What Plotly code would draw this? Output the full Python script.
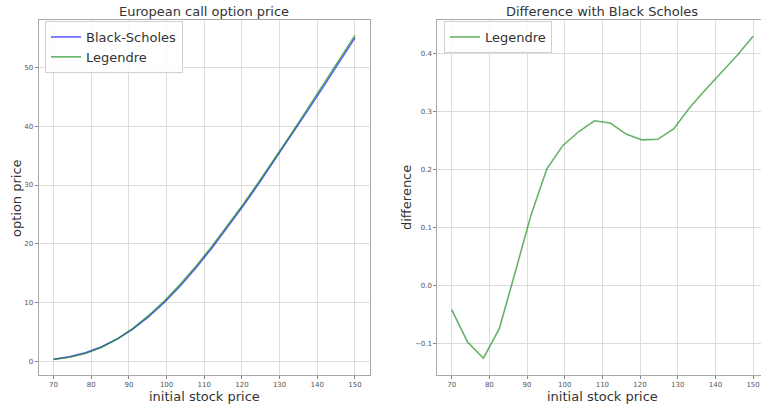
import plotly.graph_objects as go

# Initial stock prices on the pricing grid
stock_price = [70.0, 74.21, 78.42, 82.63, 86.84, 91.05, 95.26, 99.47, 103.68, 107.89,
               112.1, 116.3, 120.5, 124.7, 128.9, 133.2, 137.4, 141.6, 145.8, 150.0]

# European call prices: closed-form Black-Scholes and the Legendre approximation
black_scholes = [0.44, 0.86, 1.54, 2.51, 3.84, 5.55, 7.66, 10.12, 12.91, 16.01,
                 19.37, 22.91, 26.62, 30.46, 34.40, 38.49, 42.58, 46.66, 50.82, 54.97]
legendre = [0.40, 0.76, 1.41, 2.44, 3.86, 5.67, 7.86, 10.36, 13.18, 16.29,
            19.65, 23.17, 26.87, 30.71, 34.67, 38.80, 42.92, 47.03, 51.22, 55.40]

# Legendre minus Black-Scholes
difference = [-0.042, -0.098, -0.126, -0.075, 0.022, 0.121, 0.201, 0.241, 0.265, 0.284,
              0.280, 0.261, 0.251, 0.252, 0.270, 0.307, 0.338, 0.367, 0.397, 0.430]

x_ticks = [70, 80, 90, 100, 110, 120, 130, 140, 150]

W, H = 761, 404
FONT = "DejaVu Sans"
BLUE = "rgba(0,0,255,0.62)"
GREEN = "rgba(0,128,0,0.6)"
GRID = "#dcdcdc"
FRAME = "#a8a8a8"


def px_x(p):
    return p / W


def px_y(p):
    return 1 - p / H


fig = go.Figure()

fig.add_trace(go.Scatter(x=stock_price, y=black_scholes, mode="lines", name="Black-Scholes",
                         line=dict(color=BLUE, width=1.6), xaxis="x", yaxis="y", legend="legend"))
fig.add_trace(go.Scatter(x=stock_price, y=legendre, mode="lines", name="Legendre",
                         line=dict(color=GREEN, width=1.6), xaxis="x", yaxis="y", legend="legend"))
fig.add_trace(go.Scatter(x=stock_price, y=difference, mode="lines", name="Legendre",
                         line=dict(color=GREEN, width=1.6), xaxis="x2", yaxis="y2", legend="legend2"))

tickfont = dict(family=FONT, size=7, color="#555555")
axis_common = dict(showgrid=True, gridcolor=GRID, gridwidth=1, zeroline=False,
                   showline=True, linecolor=FRAME, linewidth=1, mirror=True,
                   ticks="outside", ticklen=3, tickcolor="#888888", tickwidth=0.8,
                   tickfont=tickfont)

y_dom = [px_y(375), px_y(20)]

legend_style = dict(xanchor="left", yanchor="top",
                    bgcolor="rgba(255,255,255,0.85)", bordercolor="#d0d0d0", borderwidth=1,
                    font=dict(family=FONT, size=13, color="#333333"),
                    tracegroupgap=0, itemwidth=30)

fig.update_layout(
    width=W, height=H,
    margin=dict(l=0, r=0, t=0, b=0),
    paper_bgcolor="white", plot_bgcolor="white",
    font=dict(family=FONT, color="#333333"),
    showlegend=True,
    xaxis=dict(domain=[px_x(38.5), px_x(370)], range=[66, 154], tickvals=x_ticks,
               anchor="y", **axis_common),
    yaxis=dict(domain=y_dom, range=[-2.24, 58.0], dtick=10, anchor="x", **axis_common),
    xaxis2=dict(domain=[px_x(437.3), 1.0], range=[66.18, 152.1], tickvals=x_ticks,
                anchor="y2", **axis_common),
    yaxis2=dict(domain=y_dom, range=[-0.155, 0.458], dtick=0.1, tickformat=".1f",
                anchor="x2", **axis_common),
    legend=dict(x=px_x(45), y=px_y(21), **legend_style),
    legend2=dict(x=px_x(444), y=px_y(21), **legend_style),
)

annotations = [
    dict(text="European call option price", x=px_x(204), y=px_y(11)),
    dict(text="Difference with Black Scholes", x=px_x(602), y=px_y(11)),
    dict(text="initial stock price", x=px_x(204), y=px_y(396)),
    dict(text="initial stock price", x=px_x(602), y=px_y(396)),
    dict(text="option price", x=px_x(16), y=px_y(198), angle=-90),
    dict(text="difference", x=px_x(406), y=px_y(198), angle=-90),
]
for a in annotations:
    fig.add_annotation(text=a["text"], x=a["x"], y=a["y"], xref="paper", yref="paper",
                       xanchor="center", yanchor="middle", showarrow=False,
                       textangle=a.get("angle", 0),
                       font=dict(family=FONT, size=13, color="#333333"))

fig.write_html("out.html")
